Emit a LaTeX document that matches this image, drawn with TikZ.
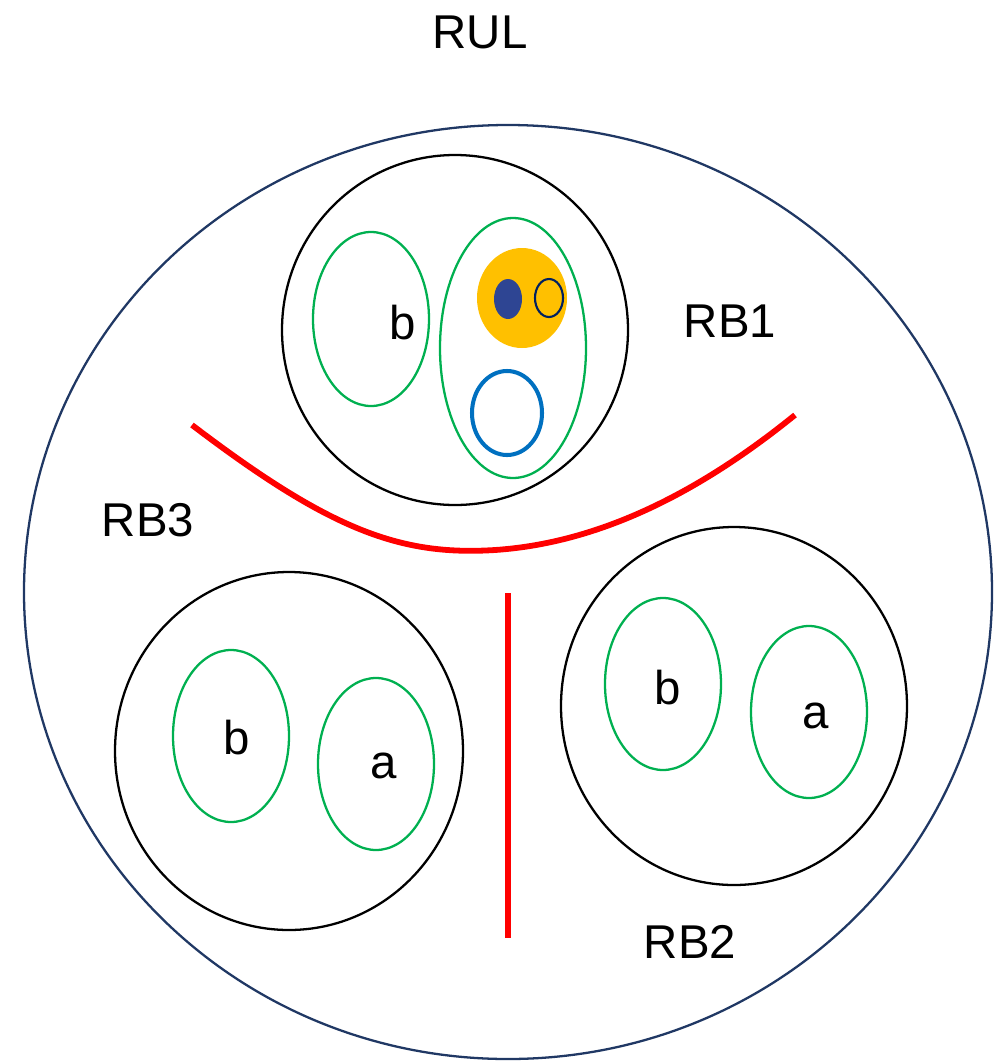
\documentclass[tikz,border=0pt]{standalone}
\usepackage{fontspec}
\setmainfont{Liberation Sans}
\usepackage{xcolor}
\usepackage{tikz}

\definecolor{navy}{HTML}{203864}
\definecolor{leaf}{HTML}{00B050}
\definecolor{amber}{HTML}{FFC000}
\definecolor{ink}{HTML}{2E4593}
\definecolor{sky}{HTML}{0070C0}
\definecolor{deep}{HTML}{002060}

\begin{document}
\begin{tikzpicture}[x=0.02cm, y=-0.02cm,
		every node/.style={font=\fontsize{27}{30}\selectfont},
		ring/.style={draw=black, line width=1.3pt},
		lobe/.style={draw=leaf, line width=1.3pt},
		cut/.style={draw=red, line width=3.3pt}]
			\useasboundingbox (0,0) rectangle (994,1062);
			% outer region
			\draw[navy, line width=1.3pt] (508,592) ellipse [x radius=484, y radius=467];
			% the three blocks
			\draw[ring] (455,330) ellipse [x radius=173, y radius=175];
			\draw[ring] (289,751) ellipse [x radius=174, y radius=179];
			\draw[ring] (734,706) ellipse [x radius=173, y radius=179];
			% inside RB1
			\draw[lobe] (371,319) ellipse [x radius=58, y radius=87];
			\draw[lobe] (513,348) ellipse [x radius=73, y radius=130];
			\fill[amber] (522,298) ellipse [x radius=45, y radius=50];
			\fill[ink] (508,299) ellipse [x radius=14, y radius=20];
			\draw[deep, line width=1.2pt] (549,298) ellipse [x radius=14, y radius=19];
			\draw[sky, line width=2.3pt] (507,413) ellipse [x radius=35, y radius=42];
			% inside RB3 and RB2
			\draw[lobe] (231,736) ellipse [x radius=58, y radius=86];
			\draw[lobe] (376,764) ellipse [x radius=58, y radius=86];
			\draw[lobe] (663,684) ellipse [x radius=58, y radius=86];
			\draw[lobe] (809,712) ellipse [x radius=58, y radius=86];
			% cuts
			\draw[cut] (192,425) .. controls (330,530) and (400,556) .. (495,550)
				.. controls (600,543) and (700,492) .. (795,415);
			\draw[cut] (508,593) -- (508,938);
			% labels
			\node (rul) at (480,32) {RUL};
			\node (rb1) at (730,321) {RB1};
			\node (rb2) at (690,942) {RB2};
			\node (rb3) at (148,520) {RB3};
			\node (b1) at (403,323) {b};
			\node (b3) at (237,738) {b};
			\node (a3) at (384,766) {a};
			\node (b2) at (668,688) {b};
			\node (a2) at (816,716) {a};
		\end{tikzpicture}
\end{document}
